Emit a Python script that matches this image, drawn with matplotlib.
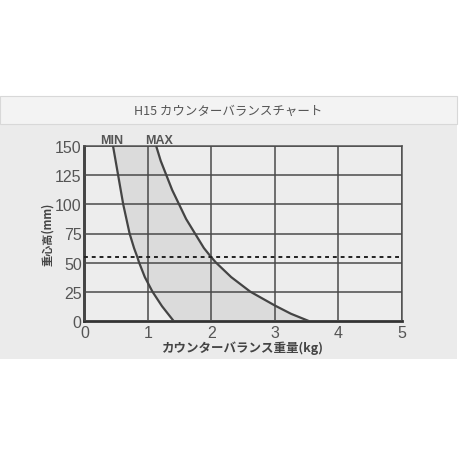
import numpy as np
import matplotlib.pyplot as plt
from matplotlib.patches import Rectangle

plt.rcParams['font.family'] = ['Noto Sans CJK JP', 'DejaVu Sans']

# ---------- Datos ----------
min_height_mm = [0, 12.5, 25, 37.5, 50, 55, 62.5, 75, 87.5, 100, 112.5, 125, 137.5, 150]
min_kg = [1.40, 1.22, 1.07, 0.95, 0.86, 0.83, 0.78, 0.71, 0.66, 0.61, 0.57, 0.53, 0.49, 0.45]
max_height_mm = [0, 6, 13, 25, 37.5, 50, 55, 62.5, 75, 87.5, 100, 112.5, 125, 137.5, 150]
max_kg = [3.52, 3.25, 3.0, 2.61, 2.31, 2.07, 1.99, 1.88, 1.74, 1.60, 1.49, 1.38, 1.29, 1.20, 1.13]
ref_height = 55
xticks = [0, 1, 2, 3, 4, 5]
yticks = [0, 25, 50, 75, 100, 125, 150]
title = "H15 カウンターバランスチャート"
xlabel = "カウンターバランス重量(kg)"
ylabel = "重心高(mm)"

fig = plt.figure(figsize=(4.6, 4.6), dpi=100)
fig.patch.set_facecolor("white")

# banda de fondo y cabecera
fig.patches.append(Rectangle((0, 1 - 360/460), 457/460, (360-97)/460,
                             transform=fig.transFigure, facecolor="#ebebeb",
                             edgecolor="none", zorder=-2))
fig.patches.append(Rectangle((0, 1 - 125/460), 457/460, 28/460,
                             transform=fig.transFigure, facecolor="#f3f3f3",
                             edgecolor="#d8d8d8", lw=0.8, zorder=-1))
fig.text(228/460, 1 - 111/460, title, ha="center", va="center",
         fontsize=9, color="#555555")

ax = fig.add_axes([84.5/460, 1 - 321.7/460, 317.5/460, 174.4/460], zorder=2)
ax.set_facecolor("#ededed")

# relleno entre MIN y MAX
yy = np.linspace(0, 150, 300)
xmin = np.interp(yy, min_height_mm, min_kg)
xmax = np.interp(yy, max_height_mm, max_kg)
ax.fill_betweenx(yy, xmin, xmax, color="#dbdbdb", zorder=1)
ax.plot(min_kg, min_height_mm, color="#444444", lw=1.6, zorder=3,
        solid_joinstyle="round")
ax.plot(max_kg, max_height_mm, color="#444444", lw=1.6, zorder=3,
        solid_joinstyle="round")
ax.axhline(ref_height, color="#222222", lw=1.4, ls=(0, (2, 2)), zorder=4)

ax.set_xlim(0, 5)
ax.set_ylim(0, 150)
ax.set_xticks(xticks)
ax.set_yticks(yticks)
ax.grid(True, color="#4a4a4a", lw=1.1, zorder=2)
ax.set_axisbelow(False)
for s in ax.spines.values():
    s.set_color("#555555")
    s.set_linewidth(1.1)
ax.spines["left"].set_linewidth(2)
ax.spines["left"].set_color("#333333")
ax.spines["bottom"].set_linewidth(2)
ax.spines["bottom"].set_color("#333333")
ax.tick_params(length=0, labelsize=11.5, colors="#555555")
ax.tick_params(axis="x", pad=3)
ax.tick_params(axis="y", pad=2)
for lab in ax.get_xticklabels() + ax.get_yticklabels():
    lab.set_fontfamily(["Liberation Sans", "DejaVu Sans"])

ax.set_xlabel(xlabel, fontsize=9, fontweight="bold", color="#444444", labelpad=0.5)
ax.set_ylabel(ylabel, fontsize=8, fontweight="bold", color="#444444", labelpad=1)

ax.text(0.43, 150.5, "MIN", ha="center", va="bottom", fontsize=9,
        fontweight="bold", color="#555555",
        family=["Liberation Sans", "DejaVu Sans"])
ax.text(1.18, 150.5, "MAX", ha="center", va="bottom", fontsize=9,
        fontweight="bold", color="#555555",
        family=["Liberation Sans", "DejaVu Sans"])

fig.savefig("out.png", dpi=100, facecolor=fig.get_facecolor())
